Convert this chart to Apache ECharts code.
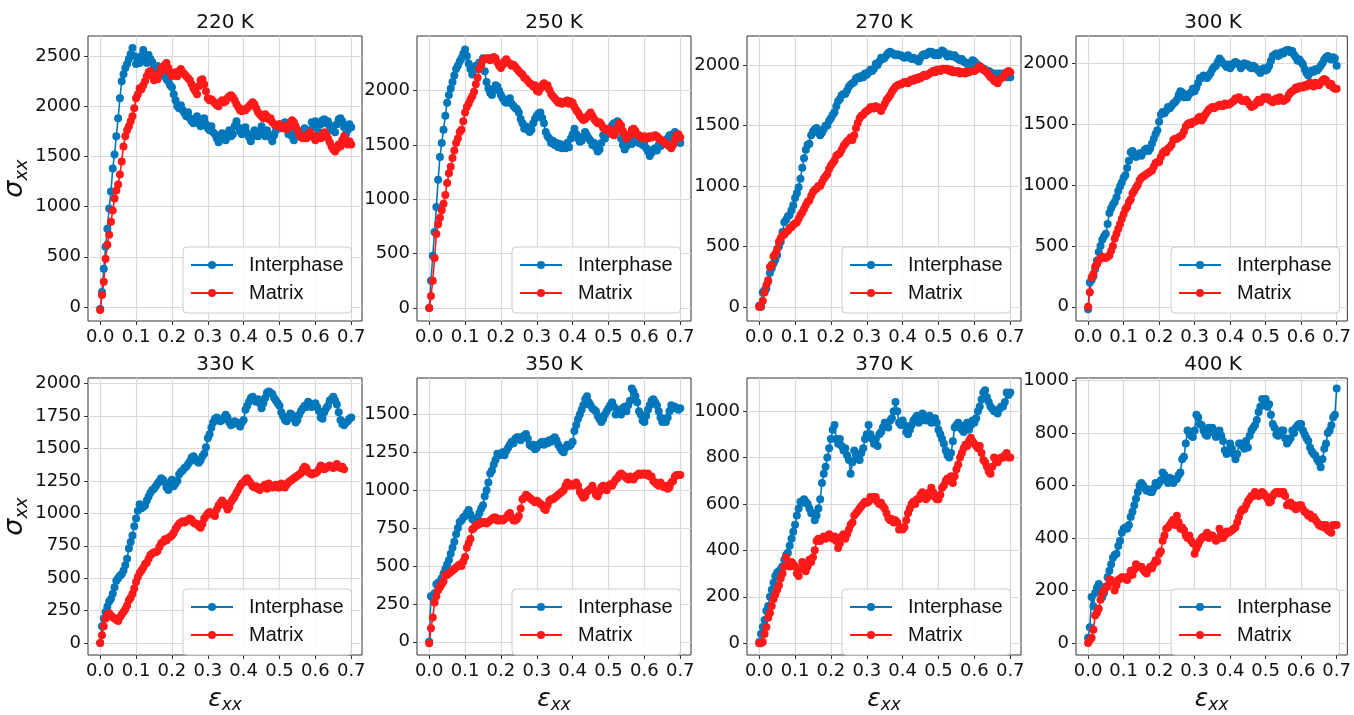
<!DOCTYPE html>
<html><head><meta charset="utf-8">
<script src="https://cdn.jsdelivr.net/npm/echarts@6/dist/echarts.min.js"></script>
<style>html,body{margin:0;padding:0;background:#fff}#c{width:1354px;height:715px}</style>
</head><body><div id="c"></div><script>
// strain sampling grid (x), step 0.005 from 0 to 0.70
const strain = Array.from({length: 141}, (_, i) => +(i * 0.005).toFixed(3));

const temps = ['220 K','250 K','270 K','300 K','330 K','350 K','370 K','400 K'];
const xTicks = [0, 0.1, 0.2, 0.3, 0.4, 0.5, 0.6, 0.7];
const yTicks220 = [0, 500, 1000, 1500, 2000, 2500];
const yTicks250 = [0, 500, 1000, 1500, 2000];
const yTicks270 = [0, 500, 1000, 1500, 2000];
const yTicks300 = [0, 500, 1000, 1500, 2000];
const yTicks330 = [0, 250, 500, 750, 1000, 1250, 1500, 1750, 2000];
const yTicks350 = [0, 250, 500, 750, 1000, 1250, 1500];
const yTicks370 = [0, 200, 400, 600, 800, 1000];
const yTicks400 = [0, 200, 400, 600, 800, 1000];

const inter220 = [-20,150,380,600,780,980,1150,1380,1520,1700,
1880,2080,2250,2320,2380,2420,2470,2520,2580,2500,
2420,2470,2430,2500,2560,2480,2430,2510,2470,2440,
2390,2360,2400,2340,2320,2360,2300,2270,2250,2210,
2190,2120,2060,2000,1980,2010,1960,1930,1900,1940,
1880,1850,1830,1870,1900,1830,1800,1860,1880,1820,
1780,1760,1800,1740,1720,1680,1640,1700,1730,1680,
1660,1720,1760,1700,1720,1800,1850,1790,1750,1720,
1760,1790,1730,1690,1650,1700,1760,1720,1700,1740,
1800,1740,1700,1760,1720,1690,1650,1710,1760,1800,
1820,1780,1800,1840,1780,1720,1760,1700,1660,1720,
1760,1730,1700,1740,1780,1730,1700,1760,1840,1810,
1850,1780,1740,1820,1860,1870,1830,1850,1800,1760,
1800,1740,1820,1870,1880,1850,1790,1720,1760,1820,1790];
const matrix220 = [-30,120,250,480,620,720,850,960,1080,1160,
1220,1320,1450,1600,1700,1760,1800,1850,1900,1980,
2080,2120,2180,2170,2210,2250,2300,2340,2350,2310,
2260,2290,2270,2330,2380,2360,2410,2430,2380,2340,
2300,2320,2340,2300,2350,2370,2340,2320,2300,2280,
2260,2220,2180,2150,2120,2200,2260,2270,2220,2150,
2080,2060,2070,2050,2030,2010,2000,2040,2060,2040,
2050,2080,2100,2110,2090,2060,2020,1990,1960,1950,
1970,1960,1980,2000,2020,2040,2020,1980,1940,1920,
1900,1880,1920,1900,1870,1880,1840,1820,1810,1800,
1820,1800,1780,1800,1770,1790,1830,1860,1840,1800,
1760,1720,1690,1680,1700,1680,1720,1740,1710,1690,
1660,1700,1690,1680,1710,1740,1720,1680,1640,1600,
1570,1550,1580,1620,1600,1660,1700,1640,1620,1650,1620];

const inter250 = [0,250,480,700,930,1180,1390,1520,1640,1770,
1890,1960,2020,2080,2140,2200,2230,2270,2300,2340,
2380,2320,2250,2200,2150,2190,2230,2200,2260,2240,
2300,2180,2080,2020,1980,1960,2010,2050,2040,2000,
1960,1930,1900,1890,1910,1930,1880,1860,1840,1830,
1800,1740,1700,1650,1670,1640,1620,1640,1700,1740,
1770,1790,1800,1750,1700,1620,1580,1560,1520,1540,
1500,1520,1480,1510,1470,1490,1470,1520,1480,1560,
1600,1650,1600,1560,1530,1540,1580,1620,1590,1560,
1540,1500,1520,1480,1440,1460,1520,1590,1560,1600,
1620,1650,1680,1700,1690,1720,1650,1560,1500,1460,
1490,1520,1530,1510,1560,1570,1540,1520,1550,1500,
1500,1470,1440,1400,1430,1460,1470,1450,1500,1490,
1530,1510,1540,1560,1590,1570,1600,1620,1580,1550,1520];
const matrix250 = [0,110,250,460,680,770,830,900,960,1040,
1150,1240,1300,1380,1450,1520,1560,1620,1640,1720,
1800,1850,1880,1920,1950,1990,2060,2120,2200,2240,
2280,2290,2300,2300,2280,2300,2310,2300,2260,2230,
2210,2240,2270,2290,2260,2250,2230,2240,2220,2200,
2180,2160,2150,2120,2110,2090,2070,2060,2040,2050,
2000,1990,2020,2050,2070,2040,2050,2010,1970,1950,
1930,1910,1890,1900,1880,1890,1900,1910,1880,1900,
1890,1850,1820,1800,1770,1750,1730,1740,1760,1780,
1800,1770,1740,1720,1700,1710,1690,1660,1640,1650,
1650,1620,1600,1590,1620,1660,1700,1680,1630,1600,
1560,1580,1600,1640,1650,1630,1600,1590,1570,1560,
1580,1570,1560,1580,1570,1580,1590,1580,1560,1550,
1540,1530,1510,1500,1490,1470,1500,1550,1590,1600,1570];

const inter270 = [10,0,120,140,150,210,280,320,360,390,
430,500,540,620,700,720,750,760,800,840,
900,940,990,1060,1150,1230,1300,1340,1350,1420,
1450,1470,1480,1440,1420,1440,1470,1500,1500,1540,
1560,1590,1610,1660,1700,1720,1750,1760,1760,1790,
1820,1840,1850,1860,1890,1900,1890,1910,1900,1930,
1920,1940,1960,1950,1970,2010,2000,2030,2060,2050,
2060,2080,2100,2110,2100,2090,2080,2090,2080,2080,
2070,2060,2070,2080,2060,2050,2060,2050,2040,2030,
2060,2080,2090,2080,2100,2110,2110,2090,2080,2100,
2080,2100,2120,2110,2090,2070,2090,2080,2070,2080,
2060,2050,2040,2050,2030,2020,2010,2000,2020,2040,
2030,2010,2000,1990,1980,1970,1960,1940,1950,1940,
1930,1920,1930,1920,1930,1920,1930,1910,1900,1910,1900];
const matrix270 = [0,10,50,120,180,220,330,350,420,440,
480,540,570,590,600,620,630,650,660,680,
690,700,730,760,780,810,840,870,880,920,
950,970,980,1000,1000,1030,1060,1080,1100,1140,
1170,1190,1210,1250,1260,1270,1300,1330,1350,1370,
1380,1400,1380,1420,1480,1520,1560,1580,1590,1610,
1620,1630,1650,1650,1640,1660,1650,1640,1620,1650,
1680,1710,1730,1750,1780,1800,1820,1830,1840,1840,
1850,1860,1860,1850,1870,1880,1870,1890,1880,1900,
1890,1910,1920,1910,1920,1930,1940,1950,1940,1960,
1960,1950,1970,1970,1960,1970,1950,1960,1940,1950,
1940,1950,1930,1940,1940,1930,1950,1940,1950,1950,
1950,1960,1980,1990,1970,1960,1950,1940,1920,1900,
1890,1870,1860,1850,1880,1890,1900,1920,1940,1950,1940];

const inter300 = [-20,200,220,250,310,380,450,500,550,580,
600,680,770,810,840,860,900,950,990,1020,
1060,1080,1140,1200,1270,1280,1240,1230,1250,1260,
1240,1270,1290,1300,1280,1300,1340,1380,1420,1450,
1520,1580,1600,1590,1610,1640,1630,1650,1670,1680,
1700,1740,1770,1760,1720,1730,1720,1750,1760,1790,
1770,1800,1840,1880,1880,1900,1890,1880,1900,1920,
1950,1970,1980,2010,2040,2020,2000,1990,1970,1990,
1960,1980,2000,2010,2000,1990,1960,1980,2000,1990,
1990,1970,1960,1980,1970,1950,1940,1920,1950,1960,
1940,1950,1980,2020,2060,2070,2080,2060,2070,2090,
2080,2100,2110,2110,2090,2100,2070,2050,2020,2030,
2010,1990,1950,1920,1900,1920,1940,1930,1950,1940,
1960,1980,2000,2030,2050,2060,2040,2030,2050,2040,1980];
const matrix300 = [0,120,240,270,330,350,380,400,410,400,
400,410,420,460,500,560,600,640,680,720,
760,800,820,860,880,930,950,980,1000,1040,
1060,1070,1080,1090,1100,1110,1120,1150,1180,1190,
1190,1230,1260,1280,1270,1300,1310,1330,1370,1380,
1380,1390,1400,1410,1440,1480,1500,1510,1500,1520,
1520,1530,1550,1560,1530,1550,1580,1600,1620,1630,
1640,1630,1640,1650,1660,1650,1650,1670,1660,1660,
1670,1680,1690,1710,1710,1720,1700,1690,1690,1700,
1680,1660,1640,1650,1660,1680,1700,1680,1700,1720,
1710,1720,1700,1690,1680,1700,1710,1690,1720,1700,
1690,1700,1710,1740,1760,1770,1780,1800,1790,1810,
1810,1800,1820,1810,1830,1840,1820,1810,1840,1830,
1820,1840,1860,1870,1860,1840,1820,1830,1800,1790,1790];

const inter330 = [0,130,190,240,280,320,340,380,430,480,
500,520,530,560,600,650,730,780,830,900,
960,1020,1070,1040,1050,1060,1100,1130,1160,1180,
1190,1210,1230,1250,1270,1260,1240,1200,1180,1230,
1260,1210,1230,1250,1300,1320,1330,1350,1360,1380,
1400,1430,1440,1420,1400,1390,1410,1440,1460,1510,
1580,1610,1660,1700,1730,1740,1720,1710,1720,1740,
1760,1740,1700,1680,1690,1710,1700,1690,1670,1700,
1720,1800,1830,1860,1890,1900,1870,1860,1880,1850,
1810,1850,1890,1930,1940,1930,1920,1890,1870,1850,
1830,1780,1750,1720,1710,1740,1770,1760,1730,1700,
1720,1760,1790,1810,1830,1820,1860,1840,1820,1830,
1850,1820,1790,1740,1730,1780,1810,1830,1870,1880,
1900,1870,1840,1780,1720,1690,1680,1700,1710,1730,1740];
const matrix330 = [0,60,130,190,220,230,210,200,190,180,
170,200,220,240,260,290,330,350,380,420,
470,510,540,560,580,610,620,650,680,690,
700,700,710,740,770,780,800,790,810,820,
830,850,880,900,920,930,940,930,940,950,
960,950,930,920,920,900,890,920,960,980,
1000,1010,1000,990,980,1030,1060,1080,1100,1080,
1060,1030,1050,1090,1110,1130,1160,1180,1210,1230,
1240,1260,1270,1250,1230,1210,1200,1210,1190,1180,
1200,1210,1220,1190,1230,1210,1200,1210,1220,1200,
1200,1230,1220,1200,1220,1240,1250,1260,1270,1280,
1290,1300,1310,1340,1360,1350,1320,1310,1300,1310,
1310,1320,1340,1370,1360,1340,1350,1360,1370,1360,
1350,1360,1380,1360,1350,1360,1340];

const inter350 = [0,300,290,320,380,390,400,420,450,480,
510,540,580,620,660,710,750,790,800,820,
830,850,870,840,810,800,790,820,850,880,
900,960,1000,1050,1110,1130,1170,1200,1240,1230,
1240,1250,1230,1260,1280,1300,1320,1310,1340,1350,
1350,1330,1350,1360,1370,1340,1300,1290,1300,1270,
1280,1300,1310,1320,1300,1320,1310,1330,1320,1340,
1350,1330,1300,1280,1260,1250,1280,1300,1290,1300,
1320,1390,1430,1470,1500,1530,1560,1600,1620,1580,
1560,1540,1530,1520,1490,1470,1450,1470,1500,1520,
1540,1560,1580,1550,1500,1510,1530,1500,1540,1550,
1520,1560,1590,1670,1650,1620,1580,1520,1500,1460,
1450,1490,1530,1560,1590,1600,1580,1560,1520,1480,
1450,1460,1450,1480,1520,1560,1540,1550,1540,1530,1540];
const matrix350 = [-10,90,160,260,300,340,360,380,400,440,
440,450,460,470,480,490,500,510,500,530,
560,620,650,680,740,750,770,770,780,780,
790,790,780,790,800,810,820,820,800,800,
810,800,810,820,840,850,820,800,800,810,
830,880,940,950,970,960,950,940,930,920,
930,920,910,900,880,870,900,930,940,940,
950,960,970,980,990,1000,1030,1050,1030,1040,
1030,1040,1050,1030,990,970,950,960,990,1000,
1010,1030,1000,970,960,990,1020,1030,1010,1000,
1030,1040,1030,1050,1070,1080,1100,1110,1100,1090,
1080,1070,1090,1080,1070,1090,1100,1110,1100,1110,
1110,1100,1110,1090,1090,1060,1050,1040,1030,1050,
1030,1020,1030,1010,1020,1050,1060,1090,1100,1100,1100];

const inter370 = [5,40,70,100,140,160,200,230,260,290,
305,310,320,330,360,380,390,420,450,480,
510,550,580,610,605,620,610,600,580,560,
560,530,550,580,620,690,730,760,800,840,
880,920,940,880,860,880,850,830,840,810,
790,730,780,830,810,800,790,820,840,880,
900,940,900,880,860,880,850,900,910,930,
950,940,930,960,970,1000,1040,1000,950,940,
960,940,910,900,920,940,960,970,980,950,
960,990,980,960,970,980,950,960,970,950,
920,900,880,860,830,810,800,820,870,930,
940,950,930,920,910,940,950,920,940,960,
950,970,1000,1020,1050,1080,1090,1060,1040,1020,
1010,1000,1000,990,1010,1020,1020,1040,1080,1070,1080];
const matrix370 = [0,0,5,40,70,110,130,160,190,210,
230,250,280,300,330,370,340,330,350,340,
330,300,290,320,350,330,310,330,360,350,
370,400,440,450,440,450,460,450,460,470,
460,450,460,440,410,430,460,470,450,470,
490,510,520,550,560,570,580,590,600,610,
605,610,630,620,630,630,610,600,605,590,
580,560,540,530,535,520,530,520,490,500,
490,500,530,560,580,600,610,600,620,620,
640,650,640,620,630,650,670,650,630,620,
620,640,670,680,700,710,700,720,690,720,
750,770,800,820,840,855,850,870,885,870,
860,850,840,850,820,790,780,760,740,730,
760,800,790,780,795,800,800,810,820,800,800];

const inter400 = [20,60,175,140,190,210,225,200,175,190,
215,250,275,300,325,335,340,370,390,420,
435,440,435,450,480,500,525,550,575,600,
610,600,590,580,585,575,575,590,610,600,
610,620,650,640,620,610,630,620,610,625,
625,640,650,700,710,760,810,800,790,785,
810,870,860,835,830,810,795,790,820,810,
820,800,785,790,810,790,770,735,720,735,
760,740,720,700,720,760,760,750,740,770,
745,790,810,820,830,850,880,900,930,920,
930,900,910,870,835,820,795,790,800,810,
810,780,760,770,780,810,800,820,830,835,
835,810,795,780,770,745,730,720,715,700,
690,670,700,740,760,800,810,830,860,870,970];
const matrix400 = [0,10,20,50,105,115,130,165,190,200,
210,215,240,240,230,200,220,240,245,250,
250,245,240,255,275,260,280,300,290,290,
290,280,270,265,280,290,285,300,315,310,
340,350,390,410,435,440,450,460,470,450,
485,460,435,440,430,410,400,410,390,380,
340,360,375,390,400,405,410,420,400,410,
410,400,390,395,435,420,400,410,425,420,
425,430,435,440,460,480,500,510,510,525,
540,550,560,560,575,570,560,565,575,570,
560,550,535,540,560,570,575,575,570,575,
575,560,525,530,535,520,525,510,520,525,
525,510,500,495,485,490,475,480,470,460,
450,445,450,440,450,430,425,420,450,450,450];

const interList = [inter220, inter250, inter270, inter300, inter330, inter350, inter370, inter400];
const matrixList = [matrix220, matrix250, matrix270, matrix300, matrix330, matrix350, matrix370, matrix400];
const yTickList = [yTicks220, yTicks250, yTicks270, yTicks300, yTicks330, yTicks350, yTicks370, yTicks400];

// layout
const panelLeft = [88, 417, 747, 1076];
const panelTop = [36, 378];
const PW = 274, PH = 285;
const xMin = -0.034, xMax = 0.73;
const yMin = [-140, -120, -116, -117, -92, -87, -51, -46];
const yMax = [2700, 2504, 2240, 2224, 2044, 1740, 1143, 1010];
const BLUE = '#0077BB', RED = '#FF1A1A';
const TICKFONT = 'DejaVu Sans';

const grids = [], xAxes = [], yAxes = [], series = [], legends = [], graphics = [];
const pairs = (arr) => arr.map((v, k) => [strain[k], v]);

for (let i = 0; i < 8; i++) {
  const col = i % 4, row = Math.floor(i / 4);
  const L = panelLeft[col], T = panelTop[row];
  grids.push({left: L, top: T, width: PW, height: PH, show: true,
    borderColor: '#333333', borderWidth: 1, backgroundColor: 'rgba(0,0,0,0)'});
  const xa = {
    type: 'value', gridIndex: i, min: xMin, max: xMax,
    axisLine: {show: false, onZero: false},
    axisTick: {show: true, length: 4, customValues: xTicks, lineStyle: {color: '#333'}},
    axisLabel: {customValues: xTicks, formatter: v => v.toFixed(1), fontSize: 18,
      color: '#111', fontFamily: TICKFONT, margin: 7, hideOverlap: false},
    splitLine: {show: true, lineStyle: {color: '#dadada', width: 1.2}}
  };
  if (row === 1) {
    xa.name = '{e|ε}{s|xx}';
    xa.nameLocation = 'middle';
    xa.nameGap = 29;
    xa.nameTextStyle = {rich: {
      e: {fontSize: 25, fontStyle: 'italic', fontFamily: TICKFONT, color: '#111', lineHeight: 30, verticalAlign: 'middle'},
      s: {fontSize: 17, fontStyle: 'italic', fontFamily: TICKFONT, color: '#111', lineHeight: 17, verticalAlign: 'bottom'}
    }};
  }
  xAxes.push(xa);
  const ya = {
    type: 'value', gridIndex: i, min: yMin[i], max: yMax[i],
    axisLine: {show: false, onZero: false},
    axisTick: {show: true, length: 4, customValues: yTickList[i], lineStyle: {color: '#333'}},
    axisLabel: {customValues: yTickList[i], formatter: v => String(v), fontSize: 18,
      color: '#111', fontFamily: TICKFONT, margin: 7, hideOverlap: false},
    splitLine: {show: true, lineStyle: {color: '#dadada', width: 1.2}}
  };
  if (col === 0) {
    ya.name = '{e|σ}{s|xx}';
    ya.nameLocation = 'middle';
    ya.nameRotate = 90;
    ya.nameGap = 52;
    ya.nameTextStyle = {rich: {
      e: {fontSize: 27, fontStyle: 'italic', fontFamily: TICKFONT, color: '#111', lineHeight: 32, verticalAlign: 'middle'},
      s: {fontSize: 18, fontStyle: 'italic', fontFamily: TICKFONT, color: '#111', lineHeight: 18, verticalAlign: 'bottom'}
    }};
  }
  yAxes.push(ya);

  series.push({type: 'line', name: 'Interphase', xAxisIndex: i, yAxisIndex: i,
    data: pairs(interList[i]), symbol: 'circle', symbolSize: 8,
    lineStyle: {width: 1.6, color: BLUE}, itemStyle: {color: BLUE},
    emphasis: {disabled: true}, animation: false, silent: true});
  series.push({type: 'line', name: 'Matrix', xAxisIndex: i, yAxisIndex: i,
    data: pairs(matrixList[i]), symbol: 'circle', symbolSize: 8,
    lineStyle: {width: 1.6, color: RED}, itemStyle: {color: RED},
    emphasis: {disabled: true}, animation: false, silent: true});

  legends.push({
    left: L + 95, top: T + 211, orient: 'vertical',
    data: ['Interphase', 'Matrix'], selectedMode: false,
    itemWidth: 42, itemHeight: 10, itemGap: 8,
    padding: [8, 8, 10, 7],
    backgroundColor: 'rgba(255,255,255,0.85)', borderColor: '#cccccc', borderWidth: 1, borderRadius: 4,
    formatter: '{t|{name}}',
    textStyle: {fontSize: 20, fontFamily: 'Liberation Sans', color: '#111',
      rich: {t: {fontSize: 20, fontFamily: 'Liberation Sans', color: '#111', padding: [0, 0, 0, 11]}}}
  });

  graphics.push({type: 'text', x: L + PW / 2, y: T - 13, silent: true,
    style: {text: temps[i], font: '20px "DejaVu Sans"', fill: '#111',
      textAlign: 'center', textVerticalAlign: 'middle', align: 'center', verticalAlign: 'middle'}});
}

const chart = echarts.init(document.getElementById('c'), null, {renderer: 'canvas'});
chart.setOption({
  animation: false,
  backgroundColor: '#ffffff',
  grid: grids, xAxis: xAxes, yAxis: yAxes, series: series,
  legend: legends, graphic: graphics
});
</script></body></html>
